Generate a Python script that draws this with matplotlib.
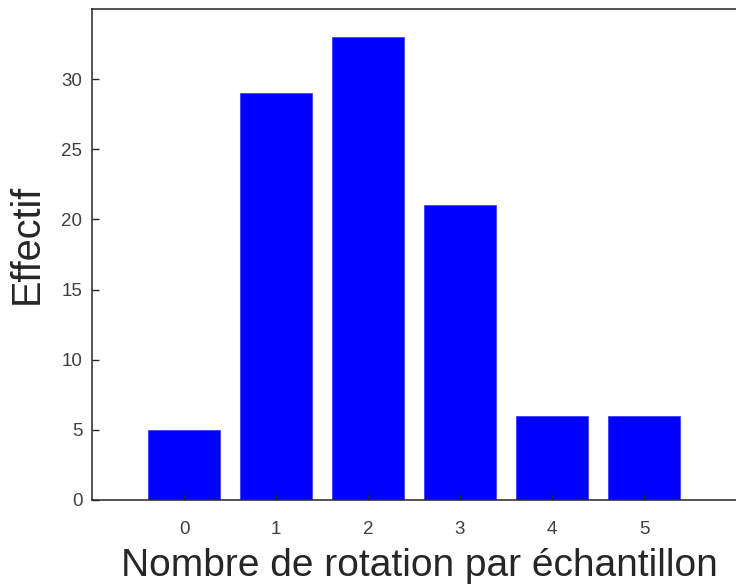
import matplotlib
matplotlib.use("Agg")
import matplotlib.pyplot as plt

categories = [0, 1, 2, 3, 4, 5]
effectif = [5, 29, 33, 21, 6, 6]
yticks = [0, 5, 10, 15, 20, 25, 30]

plt.rcParams['font.family'] = ['Liberation Sans', 'DejaVu Sans']

fig = plt.figure(figsize=(7.36, 5.87), dpi=100)
ax = fig.add_axes([92/736, 87/587, 1.0 - 92/736, (500-9)/587])

ax.bar(categories, effectif, width=0.78, color='#0000ff', edgecolor='#3333ff', linewidth=0.5)

ax.set_xlim(-1, 6)
ax.set_ylim(0, 35)
ax.set_xticks(categories)
ax.set_yticks(yticks)

for s in ax.spines.values():
    s.set_color('#262626')
    s.set_linewidth(1.1)
ax.spines['right'].set_visible(False)

ax.tick_params(axis='both', direction='in', colors='#262626', labelcolor='#404040',
               labelsize=13.5, length=5, width=1)
ax.tick_params(axis='x', pad=15, length=4)
ax.tick_params(axis='y', pad=7)

ax.set_xlabel('Nombre de rotation par échantillon', fontsize=28, color='#262626', labelpad=7)
ax.xaxis.label.set_x(0.508)
ax.set_ylabel('Effectif', fontsize=28.5, color='#262626')
ax.yaxis.set_label_coords(-0.0714, 0.522)

fig.savefig('out.png', dpi=100)
